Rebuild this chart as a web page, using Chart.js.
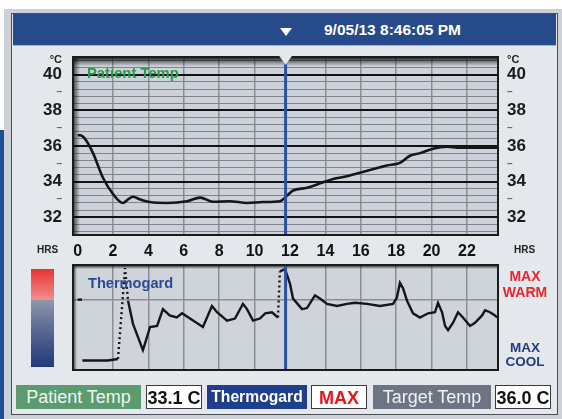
<!DOCTYPE html>
<html><head><meta charset="utf-8">
<script src="https://cdn.jsdelivr.net/npm/chart.js@4"></script>
<style>
body{margin:0;width:562px;height:419px;position:relative;overflow:hidden;background:#fff;font-family:"Liberation Sans",Arial,sans-serif;}
.a{position:absolute;}
.t{position:absolute;line-height:1;white-space:nowrap;font-weight:bold;}
.box{position:absolute;top:385px;height:24px;line-height:24px;text-align:center;box-sizing:border-box;white-space:nowrap;font-size:18px;}
.wbox{background:#fff;border:1px solid #3a3a3a;font-weight:bold;}
canvas{position:absolute;left:0;}
</style></head><body>
<div class="a" style="left:0;top:130px;width:5px;height:289px;background:#1d4f96"></div>
<div class="a" style="left:4px;top:9px;width:558px;height:410px;background:#cdd1d7"></div>
<div class="a" style="left:11px;top:13px;width:545px;height:400px;border:1px solid #4a4e55;background:#e4e7ec"></div>
<div class="a" style="left:13px;top:14px;width:543px;height:31px;background:#274a8b;border-bottom:1px solid #9fb0cf"></div>
<div class="a" style="left:280px;top:28px;width:0;height:0;border-left:6px solid transparent;border-right:6px solid transparent;border-top:8px solid #fff"></div>
<div class="t" style="left:324px;top:14px;line-height:31px;font-size:15.5px;color:#fff">9/05/13 8:46:05 PM</div>

<canvas id="top" width="562" height="260" style="top:0"></canvas>
<canvas id="bot" width="562" height="120" style="top:255px"></canvas>

<div class="t" style="left:40px;top:54px;width:22px;text-align:right;font-size:11px;color:#222">°C</div>
<div class="t" style="left:507px;top:54px;font-size:11px;color:#222">°C</div>
<div class="t" style="left:37px;top:245px;font-size:10px;color:#222">HRS</div>
<div class="t" style="left:514px;top:245px;font-size:10px;color:#222">HRS</div>
<div class="t" style="left:87px;top:66px;font-size:14.8px;color:#2a9a4c">Patient Temp</div>
<div class="t" style="left:88px;top:276px;font-size:14.6px;color:#2c4a94">Thermogard</div>
<div class="a" style="left:31px;top:269px;width:23px;height:98px;background:linear-gradient(to bottom,#e83333 0%,#f28e8e 31.5%,#8d97ad 31.5%,#5d6c92 60%,#22397b 100%)"></div>
<div class="t" style="left:495px;width:60px;text-align:center;top:269px;font-size:14px;color:#e8262b">MAX</div>
<div class="t" style="left:495px;width:60px;text-align:center;top:285px;font-size:14px;color:#e8262b">WARM</div>
<div class="t" style="left:495px;width:60px;text-align:center;top:341px;font-size:13.5px;color:#1f3c80">MAX</div>
<div class="t" style="left:495px;width:60px;text-align:center;top:355px;font-size:13.5px;color:#1f3c80">COOL</div>

<div class="box" style="left:16px;width:125px;background:#5c9b70;color:#eef5ee">Patient Temp</div>
<div class="box wbox" style="left:146px;width:56px;color:#111">33.1 C</div>
<div class="box" style="left:207px;width:100px;background:#1f3f8c;color:#fff;font-weight:bold;font-size:15.7px">Thermogard</div>
<div class="box wbox" style="left:311px;width:56px;color:#e8141c">MAX</div>
<div class="box" style="left:373px;width:118px;background:#6d7584;color:#f2f2f2">Target Temp</div>
<div class="box wbox" style="left:495px;width:56px;color:#111">36.0 C</div>

<script>
const hourTicks = [0, 2, 4, 6, 8, 10, 12, 14, 16, 18, 20, 22];
const tempLabelTicks = [32, 34, 36, 38, 40];
const tempDashTicks = [33, 35, 37, 39];

const patientHours = [0, 0.14, 0.42, 0.87, 1.44, 2.0, 2.56, 2.85, 3.13, 3.53, 4.09, 5.05, 6.18, 6.92, 7.65, 8.6, 9.57, 10.47, 11.43, 11.82, 12.17, 12.96, 13.7, 14.44, 15.22, 15.95, 17.08, 17.47, 18.21, 18.78, 19.34, 20.07, 20.87, 21.6, 23.7];
const patientTemp  = [36.6, 36.6, 36.4, 35.6, 34.2, 33.3, 32.8, 33.0, 33.15, 33.0, 32.85, 32.8, 32.9, 33.1, 32.87, 32.9, 32.8, 32.85, 32.9, 33.2, 33.5, 33.65, 33.9, 34.15, 34.3, 34.5, 34.8, 34.9, 35.05, 35.45, 35.6, 35.85, 35.96, 35.9, 35.9];

const thermogardHours = [0, 0.25, 0.26, 0.27, 1.7, 2.28, 2.68, 2.85, 3.13, 3.69, 3.86, 4.09, 4.49, 4.82, 5.2, 5.6, 5.9, 6.35, 7.08, 7.59, 7.88, 8.44, 8.89, 9.34, 9.57, 9.91, 10.3, 10.6, 10.98, 11.32, 11.43, 11.72, 12.0, 12.17, 12.68, 12.96, 13.41, 13.69, 14.09, 14.66, 15.22, 15.67, 16.35, 17.08, 17.82, 18.04, 18.21, 18.38, 18.61, 18.95, 19.34, 19.8, 20.19, 20.36, 20.59, 20.76, 20.93, 21.21, 21.49, 21.77, 22.17, 22.45, 22.85, 23.02, 23.3, 23.58, 23.7];
const thermogardLevel = [67, 67, null, 9, 9, 10.5, 97, 66, 44, 19, 28, 41, 42, 58, 52, 50, 54, 49, 41, 61, 55, 47, 49, 63, 58, 47, 49, 54, 55, 50, 94, 96, 82, 68, 58, 59, 71, 68, 63, 61, 63, 64, 63, 61, 63, 69, 83, 78, 66, 54, 50, 54, 55, 64, 55, 42, 38, 45, 55, 50, 42, 45, 52, 57, 55, 52, 50];
const thermogardGrid = [66.7];
const cursorHour = 11.75;

const X_MIN = -0.26, X_MAX = 23.75;
const FRAME_BG = '#e4e7ec';

function tempGridValues() {
  const v = [];
  for (let k = 0; k <= 24; k++) v.push(+(31.2 + 0.4 * k).toFixed(1));
  return v.concat(tempDashTicks).sort((a, b) => a - b);
}
const tv = c => (c && c.tick) ? c.tick.value : NaN;
const isMajor = c => tempLabelTicks.includes(tv(c));
const isDash = c => tempDashTicks.includes(tv(c));

const plotDeco = {
  id: 'plotDeco',
  beforeDraw(chart, args, o) {
    const { ctx, chartArea: a } = chart;
    ctx.save();
    ctx.fillStyle = o.bg;
    ctx.fillRect(a.left, a.top, a.width, a.height);
    ctx.restore();
  },
  beforeDatasetsDraw(chart, args, o) {
    const { ctx, chartArea: a } = chart;
    ctx.save();
    let g = ctx.createLinearGradient(0, a.top, 0, a.top + o.shadowTop);
    g.addColorStop(0, 'rgba(0,0,0,0.85)');
    g.addColorStop(1, 'rgba(0,0,0,0)');
    ctx.fillStyle = g;
    ctx.fillRect(a.left, a.top, a.width, o.shadowTop);
    g = ctx.createLinearGradient(a.left, 0, a.left + o.shadowLeft, 0);
    g.addColorStop(0, 'rgba(0,0,0,0.7)');
    g.addColorStop(1, 'rgba(0,0,0,0)');
    ctx.fillStyle = g;
    ctx.fillRect(a.left, a.top, o.shadowLeft, a.height);
    ctx.restore();
  },
  afterDatasetsDraw(chart, args, o) {
    const { ctx, chartArea: a } = chart;
    const x = chart.scales.x.getPixelForValue(cursorHour);
    ctx.save();
    ctx.strokeStyle = '#2d4f9f';
    ctx.lineWidth = 3;
    ctx.beginPath(); ctx.moveTo(x, a.top); ctx.lineTo(x, a.bottom); ctx.stroke();
    ctx.strokeStyle = '#1b1b1b';
    ctx.lineWidth = 2;
    ctx.strokeRect(a.left, a.top, a.width, a.height);
    if (o.notch) {
      ctx.fillStyle = FRAME_BG;
      ctx.beginPath();
      ctx.moveTo(x - 7, a.top - 2); ctx.lineTo(x + 7, a.top - 2); ctx.lineTo(x, a.top + 8); ctx.closePath();
      ctx.fill();
    }
    ctx.restore();
  }
};

const xGridColor = c => (tv(c) === 0 || tv(c) === 12) ? 'rgba(0,0,0,0)' : '#8a8f96';

function yTempAxis(pos) {
  return {
    type: 'linear', position: pos, min: 31, max: 41,
    afterBuildTicks: s => { s.ticks = tempGridValues().map(v => ({ value: v })); },
    afterFit: s => { s.width = pos === 'left' ? 73 : 64; },
    border: { display: false },
    grid: pos === 'left' ? {
      drawTicks: false,
      color: c => isDash(c) ? 'rgba(0,0,0,0)' : (isMajor(c) ? '#121212' : '#7f848c'),
      lineWidth: c => isMajor(c) ? 2 : 1
    } : { display: false, drawTicks: false },
    ticks: {
      autoSkip: false,
      padding: pos === 'left' ? 11 : 9,
      callback: v => tempLabelTicks.includes(v) ? String(v) : (tempDashTicks.includes(v) ? '–' : ''),
      font: c => isDash(c) ? { family: 'Liberation Sans', size: 10, weight: 'bold' } : { family: 'Liberation Sans', size: 17, weight: 'bold' },
      color: c => isDash(c) ? '#666' : '#1a1a1a'
    }
  };
}

new Chart(document.getElementById('top'), {
  type: 'line',
  data: { datasets: [{
    data: patientHours.map((h, i) => ({ x: h, y: patientTemp[i] })),
    borderColor: '#161616', borderWidth: 2.6, pointRadius: 0, cubicInterpolationMode: 'monotone'
  }] },
  options: {
    responsive: false, animation: false, events: [],
    layout: { padding: { top: 57, left: 0, right: 0, bottom: 0 } },
    plugins: { legend: { display: false }, tooltip: { enabled: false },
      plotDeco: { bg: '#cdd1d9', shadowTop: 9, shadowLeft: 7, notch: true } },
    scales: {
      x: {
        type: 'linear', min: X_MIN, max: X_MAX,
        afterBuildTicks: s => { s.ticks = hourTicks.map(v => ({ value: v })); },
        afterFit: s => { s.height = 25; },
        border: { display: false },
        grid: { drawTicks: false, color: xGridColor, lineWidth: 1.5 },
        ticks: { autoSkip: false, maxRotation: 0, padding: 7, color: '#111',
          font: { family: 'Liberation Sans', size: 16, weight: 'bold' }, callback: v => String(v) }
      },
      y: yTempAxis('left'),
      y2: yTempAxis('right')
    }
  },
  plugins: [plotDeco]
});

new Chart(document.getElementById('bot'), {
  type: 'line',
  data: { datasets: [{
    data: thermogardHours.map((h, i) => ({ x: h, y: thermogardLevel[i] })),
    borderColor: '#161616', borderWidth: 2.4, pointRadius: 0, tension: 0, spanGaps: false,
    segment: { borderDash: c => {
      const dx = c.p1.parsed.x - c.p0.parsed.x;
      const dy = Math.abs(c.p1.parsed.y - c.p0.parsed.y);
      return dy / dx > 150 ? [2, 3] : undefined;
    } }
  }] },
  options: {
    responsive: false, animation: false, events: [],
    layout: { padding: { top: 10, left: 0, right: 64, bottom: 0 } },
    plugins: { legend: { display: false }, tooltip: { enabled: false },
      plotDeco: { bg: '#cfd3da', shadowTop: 4, shadowLeft: 4, notch: false } },
    scales: {
      x: {
        type: 'linear', min: X_MIN, max: X_MAX,
        afterBuildTicks: s => { s.ticks = hourTicks.map(v => ({ value: v })); },
        afterFit: s => { s.height = 5; },
        border: { display: false },
        grid: { drawTicks: false, color: xGridColor, lineWidth: 1.5 },
        ticks: { display: false }
      },
      y: {
        type: 'linear', min: 0, max: 100,
        afterBuildTicks: s => { s.ticks = thermogardGrid.map(v => ({ value: v })); },
        afterFit: s => { s.width = 73; },
        border: { display: false },
        grid: { drawTicks: false, color: '#8a8f96', lineWidth: 1.5 },
        ticks: { display: false }
      }
    }
  },
  plugins: [plotDeco]
});
</script>
</body></html>
